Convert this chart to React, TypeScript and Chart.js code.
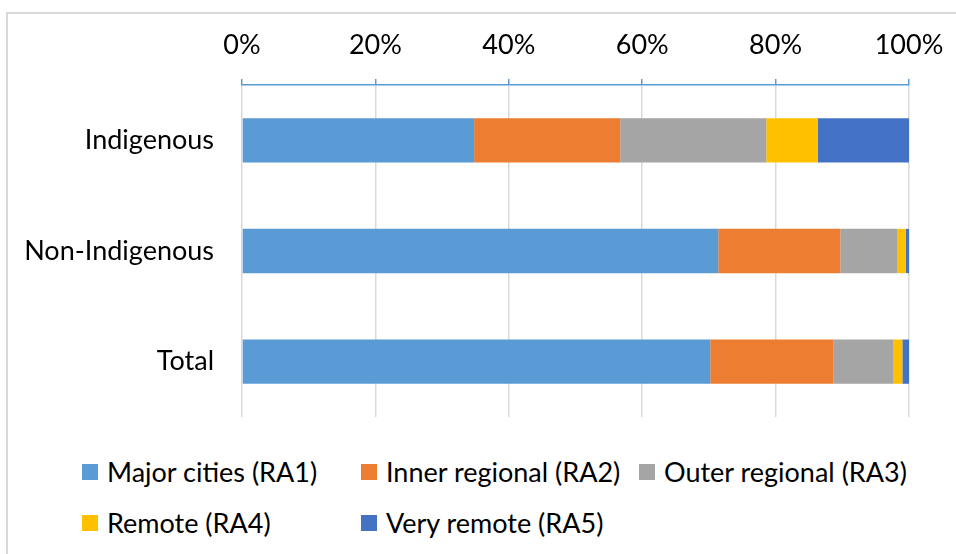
import React, { useEffect, useRef } from "react";
import { Chart, registerables } from "chart.js";

Chart.register(...registerables);

const categories = ["Indigenous", "Non-Indigenous", "Total"];
const seriesNames = [
  "Major cities (RA1)",
  "Inner regional (RA2)",
  "Outer regional (RA3)",
  "Remote (RA4)",
  "Very remote (RA5)",
];
const majorCities = [34.8, 71.4, 70.2];
const innerRegional = [21.9, 18.3, 18.5];
const outerRegional = [21.9, 8.5, 9.0];
const remote = [7.7, 1.3, 1.3];
const veryRemote = [13.7, 0.5, 1.0];
const seriesColors = ["#5B9BD5", "#ED7D31", "#A5A5A5", "#FFC000", "#4472C4"];
const xTicks = [0, 20, 40, 60, 80, 100];

const FONT = "Lato, 'Open Sans', sans-serif";
const FS = 27;

const legendPos = [
  { x: 82, y: 472 },
  { x: 361, y: 472 },
  { x: 639, y: 472 },
  { x: 82, y: 523 },
  { x: 361, y: 523 },
];

export default function App() {
  const ref = useRef<HTMLCanvasElement | null>(null);

  useEffect(() => {
    if (!ref.current) return;
    const values = [majorCities, innerRegional, outerRegional, remote, veryRemote];
    const chart = new Chart(ref.current, {
      type: "bar",
      data: {
        labels: categories,
        datasets: values.map((v, i) => ({
          label: seriesNames[i],
          data: v,
          backgroundColor: seriesColors[i],
          borderWidth: 0,
          barPercentage: 0.4,
          categoryPercentage: 1,
        })),
      },
      options: {
        indexAxis: "y",
        responsive: false,
        animation: false,
        layout: { padding: { top: 0, left: 0, right: 47, bottom: 23 } },
        plugins: { legend: { display: false }, tooltip: { enabled: false } },
        scales: {
          x: {
            position: "top",
            stacked: true,
            min: 0,
            max: 100,
            afterBuildTicks: (scale: any) => {
              scale.ticks = xTicks.map((v) => ({ value: v }));
            },
            ticks: {
              callback: (v: any) => v + "%",
              font: { family: FONT, size: FS },
              color: "#000",
              padding: 18,
              maxRotation: 0,
            },
            grid: {
              color: "#d9d9d9",
              lineWidth: 1.5,
              tickColor: "#5B9BD5",
              tickLength: 6,
              drawTicks: true,
            },
            border: { display: true, color: "#5B9BD5", width: 1.5 },
            afterFit: (scale: any) => {
              scale.height = 85;
              scale.paddingLeft = 0;
              scale.paddingRight = 0;
            },
          },
          y: {
            stacked: true,
            grid: { display: false, drawTicks: false },
            border: { display: false },
            ticks: {
              font: { family: FONT, size: FS },
              color: "#000",
              padding: 28,
            },
            afterFit: (scale: any) => {
              scale.width = 242;
              scale.paddingTop = 0;
              scale.paddingBottom = 0;
            },
          },
        },
      },
    });
    return () => chart.destroy();
  }, []);

  return (
    <div
      style={{
        position: "fixed",
        left: 0,
        top: 0,
        width: 956,
        height: 554,
        background: "#fff",
        overflow: "hidden",
      }}
    >
      <div
        style={{
          position: "absolute",
          left: 6,
          top: 12,
          width: 980,
          height: 600,
          border: "2px solid #d9d9d9",
        }}
      />
      <canvas
        ref={ref}
        width={956}
        height={440}
        style={{ position: "absolute", left: 0, top: 0, width: 956, height: 440 }}
      />
      {seriesNames.map((name, i) => (
        <div
          key={name}
          style={{
            position: "absolute",
            left: legendPos[i].x,
            top: legendPos[i].y - 17,
            display: "flex",
            alignItems: "center",
            fontFamily: FONT,
            fontSize: FS,
            color: "#000",
            whiteSpace: "nowrap",
            height: 34,
            lineHeight: "34px",
          }}
        >
          <span
            style={{
              display: "inline-block",
              width: 16,
              height: 16,
              background: seriesColors[i],
              marginRight: 9,
            }}
          />
          <span>{name}</span>
        </div>
      ))}
    </div>
  );
}
